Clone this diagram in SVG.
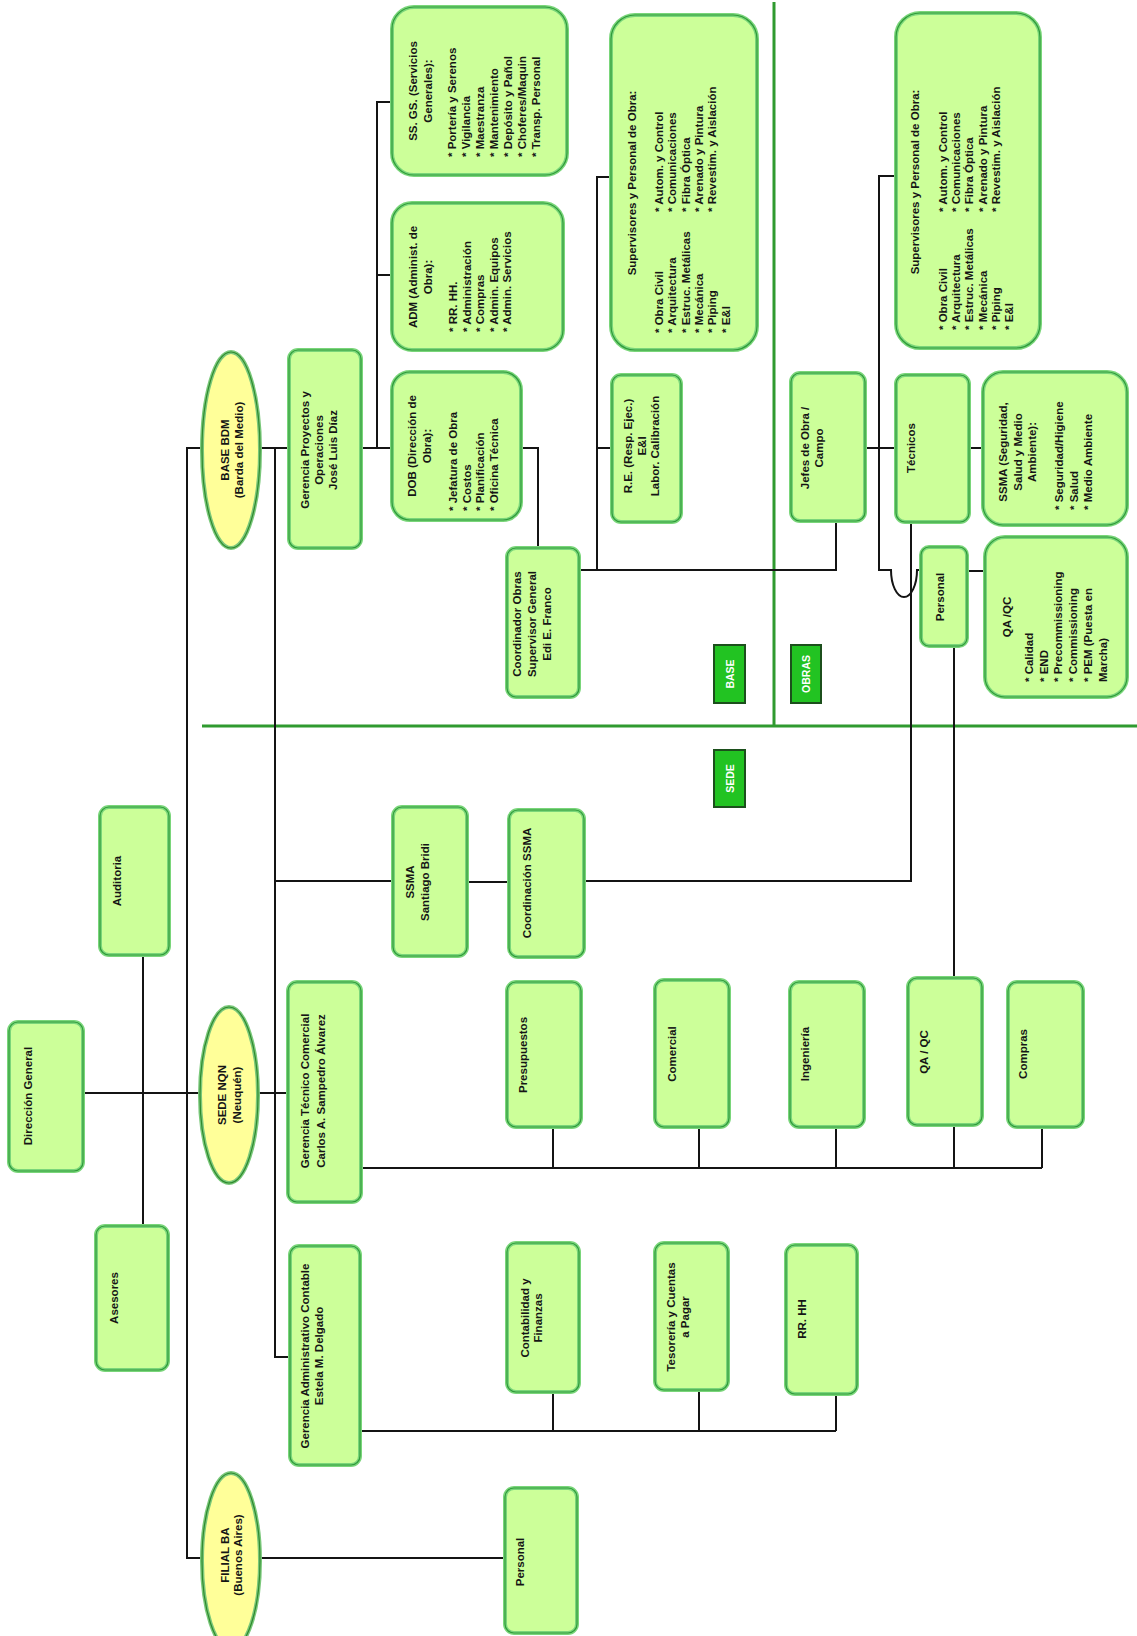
<svg xmlns="http://www.w3.org/2000/svg" width="1137" height="1636" viewBox="0 0 1137 1636">
<style>
.box{fill:#ccff99;stroke:#7ad67a;stroke-width:4}
.bin{fill:none;stroke:#2f9a3a;stroke-width:1.2}
.ell{fill:#ffff99;stroke:#7ac87a;stroke-width:4}
.ein{fill:none;stroke:#2f8a2f;stroke-width:1.2}
.t{font-family:"Liberation Sans",Arial,sans-serif;font-weight:bold;font-size:11.5px;fill:#151515;dominant-baseline:central}
.m{text-anchor:middle}
.s{text-anchor:start}
.lbl{fill:#22c322;stroke:#1c4f1c;stroke-width:2}
.lt{font-family:"Liberation Sans",Arial,sans-serif;font-weight:bold;font-size:10.5px;fill:#ffffff;text-anchor:middle;dominant-baseline:central}
.c{fill:none;stroke:#141414;stroke-width:2}
.g{fill:none;stroke:#2f9a2f;stroke-width:3}
</style>
<rect x="0" y="0" width="1137" height="1636" fill="#ffffff"/>

<g id="separators">
<path class="g" d="M202,726 H1137"/>
<path class="g" d="M774,2 V726"/>
</g>

<g id="connectors">
<path class="c" d="M83,1093 H200"/>
<path class="c" d="M258,1093 H288"/>
<path class="c" d="M143,955 V1226"/>
<path class="c" d="M202,448 H187 V1558 H202"/>
<path class="c" d="M260,448 H289"/>
<path class="c" d="M275,448 V1357 H290"/>
<path class="c" d="M361,448 H392"/>
<path class="c" d="M392,102 H377 V448"/>
<path class="c" d="M377,275 H392"/>
<path class="c" d="M521,448 H538 V548"/>
<path class="c" d="M579,570 H836 V521"/>
<path class="c" d="M611,177 H597 V570"/>
<path class="c" d="M597,448 H612"/>
<path class="c" d="M865,448 H896"/>
<path class="c" d="M969,448 H983"/>
<path class="c" d="M896,176 H879 V570 H891 A13 27 0 0 0 917 570 H921"/>
<path class="c" d="M911,522 V881 H584"/>
<path class="c" d="M275,881 H393"/>
<path class="c" d="M467,882 H509"/>
<path class="c" d="M967,571 H985"/>
<path class="c" d="M954,646 V978"/>
<path class="c" d="M260,1558 H505"/>
<path class="c" d="M361,1168 H1042"/>
<path class="c" d="M553,1127 V1168 M699,1127 V1168 M836,1127 V1168 M954,1125 V1168 M1042,1127 V1168"/>
<path class="c" d="M360,1431 H836"/>
<path class="c" d="M553,1392 V1431 M699,1390 V1431 M836,1394 V1431"/>
</g>

<g id="direccion-general">
<rect class="box" x="9" y="1022" width="74" height="149" rx="9"/><rect class="bin" x="9" y="1022" width="74" height="149" rx="9"/>
<text class="t m" transform="translate(28,1096) rotate(-90)">Dirección General</text>
</g>
<g id="asesores">
<rect class="box" x="96" y="1226" width="72" height="144" rx="9"/><rect class="bin" x="96" y="1226" width="72" height="144" rx="9"/>
<text class="t m" transform="translate(114,1298) rotate(-90)">Asesores</text>
</g>
<g id="auditoria">
<rect class="box" x="100" y="807" width="69" height="148" rx="9"/><rect class="bin" x="100" y="807" width="69" height="148" rx="9"/>
<text class="t m" transform="translate(117,881) rotate(-90)">Auditoria</text>
</g>

<g id="sede-nqn">
<ellipse class="ell" cx="229" cy="1095" rx="29" ry="88"/><ellipse class="ein" cx="229" cy="1095" rx="29" ry="88"/>
<text class="t m" transform="translate(222,1095) rotate(-90)"><tspan x="0">SEDE NQN</tspan><tspan x="0" dy="15">(Neuquén)</tspan></text>
</g>
<g id="base-bdm">
<ellipse class="ell" cx="231" cy="450" rx="29" ry="98"/><ellipse class="ein" cx="231" cy="450" rx="29" ry="98"/>
<text class="t m" transform="translate(225,450) rotate(-90)"><tspan x="0">BASE BDM</tspan><tspan x="0" dy="14">(Barda del  Medio)</tspan></text>
</g>
<g id="filial-ba">
<ellipse class="ell" cx="231" cy="1561" rx="29" ry="88"/><ellipse class="ein" cx="231" cy="1561" rx="29" ry="88"/>
<text class="t m" transform="translate(225,1555) rotate(-90)"><tspan x="0">FILIAL BA</tspan><tspan x="0" dy="13">(Buenos Aires)</tspan></text>
</g>

<g id="gerencia-proyectos">
<rect class="box" x="289" y="350" width="72" height="198" rx="9"/><rect class="bin" x="289" y="350" width="72" height="198" rx="9"/>
<text class="t m" transform="translate(305,450) rotate(-90)"><tspan x="0">Gerencia Proyectos y</tspan><tspan x="0" dy="14">Operaciones</tspan><tspan x="0" dy="14">José Luis Díaz</tspan></text>
</g>

<g id="dob">
<rect class="box" x="392" y="372" width="129" height="148" rx="18"/><rect class="bin" x="392" y="372" width="129" height="148" rx="18"/>
<text class="t m" transform="translate(412,446) rotate(-90)"><tspan x="0">DOB (Dirección de</tspan><tspan x="0" dy="14.5">Obra):</tspan></text>
<text class="t s" transform="translate(453,511) rotate(-90)"><tspan x="0">* Jefatura de Obra</tspan><tspan x="0" dy="13.5">* Costos</tspan><tspan x="0" dy="13.5">* Planificación</tspan><tspan x="0" dy="13.5">* Oficina Técnica</tspan></text>
</g>

<g id="adm">
<rect class="box" x="392" y="203" width="171" height="147" rx="20"/><rect class="bin" x="392" y="203" width="171" height="147" rx="20"/>
<text class="t m" transform="translate(413,277) rotate(-90)"><tspan x="0">ADM (Administ. de</tspan><tspan x="0" dy="15">Obra):</tspan></text>
<text class="t s" transform="translate(453,332) rotate(-90)"><tspan x="0">* RR. HH.</tspan><tspan x="0" dy="13.5">* Administración</tspan><tspan x="0" dy="13.5">* Compras</tspan><tspan x="0" dy="13.5">* Admin. Equipos</tspan><tspan x="0" dy="13.5">* Admin. Servicios</tspan></text>
</g>

<g id="ss-gs">
<rect class="box" x="392" y="7" width="175" height="168" rx="22"/><rect class="bin" x="392" y="7" width="175" height="168" rx="22"/>
<text class="t m" transform="translate(413,91) rotate(-90)"><tspan x="0">SS. GS. (Servicios</tspan><tspan x="0" dy="15">Generales):</tspan></text>
<text class="t s" transform="translate(452,157) rotate(-90)"><tspan x="0">* Portería y Serenos</tspan><tspan x="0" dy="14">* Vigilancia</tspan><tspan x="0" dy="14">* Maestranza</tspan><tspan x="0" dy="14">* Mantenimiento</tspan><tspan x="0" dy="14">* Depósito y Pañol</tspan><tspan x="0" dy="14">* Choferes/Maquin</tspan><tspan x="0" dy="14">* Transp. Personal</tspan></text>
</g>

<g id="coordinador-obras">
<rect class="box" x="507" y="548" width="72" height="149" rx="9"/><rect class="bin" x="507" y="548" width="72" height="149" rx="9"/>
<text class="t m" transform="translate(517,624) rotate(-90)"><tspan x="0">Coordinador  Obras</tspan><tspan x="0" dy="15">Supervisor General</tspan><tspan x="0" dy="15">Edi E. Franco</tspan></text>
</g>

<g id="supervisores-base">
<rect class="box" x="611" y="15" width="146" height="335" rx="24"/><rect class="bin" x="611" y="15" width="146" height="335" rx="24"/>
<text class="t m" transform="translate(632,183) rotate(-90)">Supervisores y Personal de Obra:</text>
<text class="t s" transform="translate(659,333) rotate(-90)"><tspan x="0">* Obra Civil</tspan><tspan x="0" dy="13.3">* Arquitectura</tspan><tspan x="0" dy="13.3">* Estruc. Metálicas</tspan><tspan x="0" dy="13.3">* Mecánica</tspan><tspan x="0" dy="13.3">* Piping</tspan><tspan x="0" dy="13.3">* E&amp;I</tspan></text>
<text class="t s" transform="translate(659,212) rotate(-90)"><tspan x="0">* Autom. y Control</tspan><tspan x="0" dy="13.3">* Comunicaciones</tspan><tspan x="0" dy="13.3">* Fibra Óptica</tspan><tspan x="0" dy="13.3">* Arenado y Pintura</tspan><tspan x="0" dy="13.3">* Revestim. y Aislación</tspan></text>
</g>

<g id="re-resp-ejec">
<rect class="box" x="612" y="375" width="69" height="147" rx="9"/><rect class="bin" x="612" y="375" width="69" height="147" rx="9"/>
<text class="t m" transform="translate(628,446) rotate(-90)"><tspan x="0">R.E. (Resp. Ejec.)</tspan><tspan x="0" dy="13.5">E&amp;I</tspan><tspan x="0" dy="13.5">Labor. Calibración</tspan></text>
</g>

<g id="supervisores-obras">
<rect class="box" x="896" y="13" width="144" height="335" rx="24"/><rect class="bin" x="896" y="13" width="144" height="335" rx="24"/>
<text class="t m" transform="translate(915,182) rotate(-90)">Supervisores y Personal de Obra:</text>
<text class="t s" transform="translate(943,330) rotate(-90)"><tspan x="0">* Obra Civil</tspan><tspan x="0" dy="13.2">* Arquitectura</tspan><tspan x="0" dy="13.2">* Estruc. Metálicas</tspan><tspan x="0" dy="13.2">* Mecánica</tspan><tspan x="0" dy="13.2">* Piping</tspan><tspan x="0" dy="13.2">* E&amp;I</tspan></text>
<text class="t s" transform="translate(943,212) rotate(-90)"><tspan x="0">* Autom. y Control</tspan><tspan x="0" dy="13.2">* Comunicaciones</tspan><tspan x="0" dy="13.2">* Fibra Óptica</tspan><tspan x="0" dy="13.2">* Arenado y Pintura</tspan><tspan x="0" dy="13.2">* Revestim. y Aislación</tspan></text>
</g>

<g id="jefes-de-obra">
<rect class="box" x="791" y="373" width="74" height="148" rx="9"/><rect class="bin" x="791" y="373" width="74" height="148" rx="9"/>
<text class="t m" transform="translate(805,448) rotate(-90)"><tspan x="0">Jefes de Obra /</tspan><tspan x="0" dy="14">Campo</tspan></text>
</g>

<g id="tecnicos">
<rect class="box" x="896" y="375" width="73" height="147" rx="9"/><rect class="bin" x="896" y="375" width="73" height="147" rx="9"/>
<text class="t m" transform="translate(911,448) rotate(-90)">Técnicos</text>
</g>

<g id="ssma-obras">
<rect class="box" x="983" y="372" width="144" height="153" rx="20"/><rect class="bin" x="983" y="372" width="144" height="153" rx="20"/>
<text class="t m" transform="translate(1003,452) rotate(-90)"><tspan x="0">SSMA (Seguridad,</tspan><tspan x="0" dy="14.5">Salud y Medio</tspan><tspan x="0" dy="14.5">Ambiente):</tspan></text>
<text class="t s" transform="translate(1059,510) rotate(-90)"><tspan x="0">* Seguridad/Higiene</tspan><tspan x="0" dy="14.5">* Salud</tspan><tspan x="0" dy="14.5">* Medio Ambiente</tspan></text>
</g>

<g id="personal-obras">
<rect class="box" x="921" y="547" width="46" height="99" rx="8"/><rect class="bin" x="921" y="547" width="46" height="99" rx="8"/>
<text class="t m" transform="translate(940,597) rotate(-90)">Personal</text>
</g>

<g id="qa-qc-obras">
<rect class="box" x="985" y="537" width="142" height="160" rx="20"/><rect class="bin" x="985" y="537" width="142" height="160" rx="20"/>
<text class="t m" transform="translate(1007,617) rotate(-90)">QA /QC</text>
<text class="t s" transform="translate(1029,682) rotate(-90)"><tspan x="0">* Calidad</tspan><tspan x="0" dy="14.7">* END</tspan><tspan x="0" dy="14.7">* Precommissioning</tspan><tspan x="0" dy="14.7">* Commissioning</tspan><tspan x="0" dy="14.7">* PEM (Puesta en</tspan><tspan x="0" dy="14.7">Marcha)</tspan></text>
</g>

<g id="label-base">
<rect class="lbl" x="714" y="645" width="31" height="58"/>
<text class="lt" transform="translate(729.5,674) rotate(-90)">BASE</text>
</g>
<g id="label-obras">
<rect class="lbl" x="791" y="645" width="30" height="58"/>
<text class="lt" transform="translate(806,674) rotate(-90)">OBRAS</text>
</g>
<g id="label-sede">
<rect class="lbl" x="714" y="750" width="31" height="57"/>
<text class="lt" transform="translate(729.5,778.5) rotate(-90)">SEDE</text>
</g>

<g id="ssma-santiago-bridi">
<rect class="box" x="393" y="807" width="74" height="149" rx="9"/><rect class="bin" x="393" y="807" width="74" height="149" rx="9"/>
<text class="t m" transform="translate(410,882) rotate(-90)"><tspan x="0">SSMA</tspan><tspan x="0" dy="15">Santiago Bridi</tspan></text>
</g>
<g id="coordinacion-ssma">
<rect class="box" x="509" y="810" width="75" height="147" rx="9"/><rect class="bin" x="509" y="810" width="75" height="147" rx="9"/>
<text class="t m" transform="translate(527,883) rotate(-90)">Coordinación SSMA</text>
</g>

<g id="gerencia-tecnico-comercial">
<rect class="box" x="288" y="982" width="73" height="220" rx="9"/><rect class="bin" x="288" y="982" width="73" height="220" rx="9"/>
<text class="t m" transform="translate(305,1091) rotate(-90)"><tspan x="0">Gerencia Técnico Comercial</tspan><tspan x="0" dy="15.5">Carlos A.  Sampedro Álvarez</tspan></text>
</g>
<g id="presupuestos">
<rect class="box" x="507" y="982" width="74" height="145" rx="9"/><rect class="bin" x="507" y="982" width="74" height="145" rx="9"/>
<text class="t m" transform="translate(523,1055) rotate(-90)">Presupuestos</text>
</g>
<g id="comercial">
<rect class="box" x="655" y="980" width="74" height="147" rx="9"/><rect class="bin" x="655" y="980" width="74" height="147" rx="9"/>
<text class="t m" transform="translate(672,1054) rotate(-90)">Comercial</text>
</g>
<g id="ingenieria">
<rect class="box" x="790" y="982" width="74" height="145" rx="9"/><rect class="bin" x="790" y="982" width="74" height="145" rx="9"/>
<text class="t m" transform="translate(805,1054) rotate(-90)">Ingeniería</text>
</g>
<g id="qa-qc-sede">
<rect class="box" x="908" y="978" width="74" height="147" rx="9"/><rect class="bin" x="908" y="978" width="74" height="147" rx="9"/>
<text class="t m" transform="translate(924,1052) rotate(-90)">QA / QC</text>
</g>
<g id="compras">
<rect class="box" x="1008" y="982" width="75" height="145" rx="9"/><rect class="bin" x="1008" y="982" width="75" height="145" rx="9"/>
<text class="t m" transform="translate(1023,1054) rotate(-90)">Compras</text>
</g>

<g id="gerencia-administrativo-contable">
<rect class="box" x="290" y="1246" width="70" height="219" rx="9"/><rect class="bin" x="290" y="1246" width="70" height="219" rx="9"/>
<text class="t m" transform="translate(305,1356) rotate(-90)"><tspan x="0">Gerencia Administrativo Contable</tspan><tspan x="0" dy="14">Estela M. Delgado</tspan></text>
</g>
<g id="contabilidad">
<rect class="box" x="507" y="1243" width="72" height="149" rx="9"/><rect class="bin" x="507" y="1243" width="72" height="149" rx="9"/>
<text class="t m" transform="translate(525,1318) rotate(-90)"><tspan x="0">Contabilidad y</tspan><tspan x="0" dy="13">Finanzas</tspan></text>
</g>
<g id="tesoreria">
<rect class="box" x="655" y="1243" width="73" height="147" rx="9"/><rect class="bin" x="655" y="1243" width="73" height="147" rx="9"/>
<text class="t m" transform="translate(671,1317) rotate(-90)"><tspan x="0">Tesorería y Cuentas</tspan><tspan x="0" dy="14">a Pagar</tspan></text>
</g>
<g id="rr-hh">
<rect class="box" x="786" y="1245" width="71" height="149" rx="9"/><rect class="bin" x="786" y="1245" width="71" height="149" rx="9"/>
<text class="t m" transform="translate(802,1319) rotate(-90)">RR. HH</text>
</g>
<g id="personal-filial">
<rect class="box" x="505" y="1488" width="72" height="145" rx="9"/><rect class="bin" x="505" y="1488" width="72" height="145" rx="9"/>
<text class="t m" transform="translate(520,1562) rotate(-90)">Personal</text>
</g>
</svg>
